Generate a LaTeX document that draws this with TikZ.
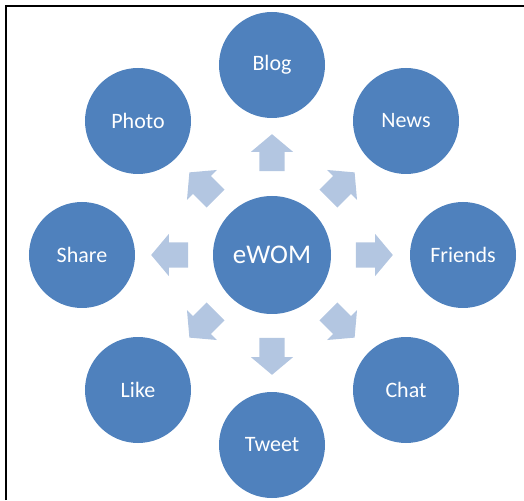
\documentclass[tikz,border=0pt]{standalone}
\usepackage{fontspec}
\setmainfont{Carlito}
\usetikzlibrary{shapes.arrows}
\definecolor{bubble}{HTML}{4F81BD}
\definecolor{pale}{HTML}{B3C6E1}
\tikzstyle{bag} = [circle, fill=bubble, text=white, minimum size=106pt, inner sep=0pt, font=\fontsize{22}{26}\selectfont]
\tikzstyle{hub} = [bag, minimum size=118pt, font=\fontsize{27}{32}\selectfont]
\tikzstyle{push} = [single arrow, fill=pale, minimum height=37pt, minimum width=42pt, single arrow head extend=8.5pt, single arrow tip angle=100, inner xsep=0pt, inner ysep=12.5pt]

\begin{document}
\begin{tikzpicture}[x=1pt,y=1pt]
	  \useasboundingbox (-272,-245) rectangle (252,255);
	  \draw [line width=1.6pt] (-266,-245) -- (-266,249) -- (252,249);

	  \node (ewom) at ( 0,0) [hub] {eWOM};
	  \node (blog) at ( 0,190) [bag] {Blog};
	  \node (news) at ( 134,134) [bag] {News};
	  \node (friends) at ( 191,0) [bag] {Friends};
	  \node (chat) at ( 134,-135) [bag] {Chat};
	  \node (tweet) at ( 0,-190) [bag] {Tweet};
	  \node (like) at ( -134,-135) [bag] {Like};
	  \node (share) at ( -190,0) [bag] {Share};
	  \node (photo) at ( -134,134) [bag] {Photo};

	  \node (toblog) at (90:97) [push, rotate=90] {};
	  \node (tonews) at (45:93) [push, rotate=45] {};
	  \node (tofriends) at (0:97) [push, rotate=0] {};
	  \node (tochat) at (-45:93) [push, rotate=-45] {};
	  \node (totweet) at (-90:96) [push, rotate=-90] {};
	  \node (tolike) at (-135:93) [push, rotate=-135] {};
	  \node (toshare) at (180:97) [push, rotate=180] {};
	  \node (tophoto) at (135:93) [push, rotate=135] {};
	\end{tikzpicture}
\end{document}
